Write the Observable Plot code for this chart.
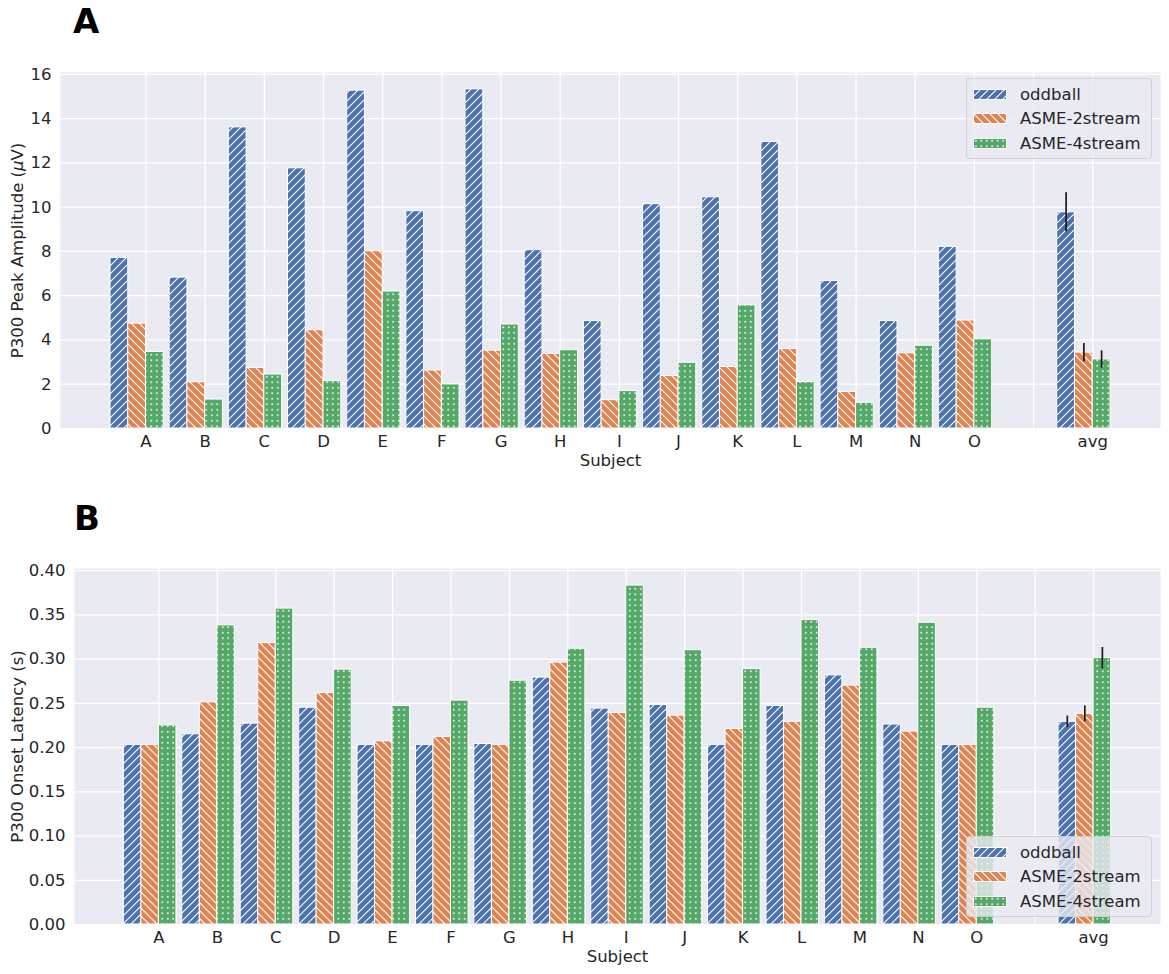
<!DOCTYPE html>
<html>
<head>
<meta charset="utf-8">
<script src="https://cdn.jsdelivr.net/npm/d3@7"></script>
<script src="https://cdn.jsdelivr.net/npm/@observablehq/plot@0.6"></script>
<style>
  body { margin: 0; background: #fff; font-family: "DejaVu Sans", sans-serif; color: #262626; }
  #wrap { position: relative; width: 1169px; height: 974px; overflow: hidden; }
  #wrap > svg.plot { display: block; }
  .panel-title { position: absolute; font-family: "DejaVu Sans", sans-serif; font-weight: bold; font-size: 34px; line-height: 34px; color: #000; }
  .legend { position: absolute; left: 966px; width: 186px; height: 81px; box-sizing: border-box;
            border: 1px solid rgba(204,204,204,0.8); border-radius: 4px; background: rgba(234,234,242,0.8); }
  .legend .row { position: absolute; left: 6px; height: 24px; display: flex; align-items: center;
                 font-size: 16.5px; color: #262626; white-space: nowrap; }
  .legend .row svg { margin-right: 13px; display: block; }
</style>
</head>
<body>
<svg width="0" height="0" style="position:absolute">
  <defs>
    <pattern id="hatchBlue" patternUnits="userSpaceOnUse" width="8" height="8">
      <rect width="8" height="8" fill="#4C72B0"/>
      <path d="M-2,2 L2,-2 M0,8 L8,0 M6,10 L10,6" stroke="#fff" stroke-width="1.1"/>
    </pattern>
    <pattern id="hatchOrange" patternUnits="userSpaceOnUse" width="8" height="8">
      <rect width="8" height="8" fill="#DD8452"/>
      <path d="M-2,6 L2,10 M0,0 L8,8 M6,-2 L10,2" stroke="#fff" stroke-width="1.1"/>
    </pattern>
    <pattern id="dotsGreen" patternUnits="userSpaceOnUse" width="5.5" height="5.5">
      <rect width="5.5" height="5.5" fill="#55A868"/>
      <circle cx="2.75" cy="2.75" r="0.9" fill="#fff"/>
    </pattern>
  </defs>
</svg>
<div id="wrap"></div>
<script>
// ---------- data ----------
const subjects = ["A","B","C","D","E","F","G","H","I","J","K","L","M","N","O","avg"];
const tickLabels = ["A","B","C","D","E","F","G","H","I","J","K","L","M","N","O","","avg"];
const seriesNames = ["oddball","ASME-2stream","ASME-4stream"];

const oddballAmp = [7.71, 6.82, 13.61, 11.76, 15.27, 9.82, 15.33, 8.06, 4.86, 10.14, 10.45, 12.95, 6.67, 4.86, 8.21, 9.77];
const asme2Amp   = [4.74, 2.09, 2.74, 4.44, 8.01, 2.62, 3.52, 3.37, 1.28, 2.37, 2.78, 3.59, 1.65, 3.40, 4.88, 3.43];
const asme4Amp   = [3.46, 1.31, 2.44, 2.14, 6.19, 1.99, 4.70, 3.54, 1.69, 2.97, 5.57, 2.10, 1.16, 3.74, 4.03, 3.12];
const ampAvgErr  = [0.88, 0.41, 0.39];
const ampTicks   = [0, 2, 4, 6, 8, 10, 12, 14, 16];

const oddballLat = [0.203, 0.215, 0.227, 0.245, 0.203, 0.203, 0.204, 0.279, 0.244, 0.248, 0.203, 0.247, 0.2815, 0.226, 0.203, 0.229];
const asme2Lat   = [0.203, 0.251, 0.318, 0.2615, 0.207, 0.212, 0.203, 0.296, 0.239, 0.236, 0.221, 0.229, 0.270, 0.218, 0.203, 0.238];
const asme4Lat   = [0.225, 0.338, 0.357, 0.288, 0.247, 0.253, 0.2755, 0.3116, 0.383, 0.310, 0.2886, 0.344, 0.3127, 0.341, 0.245, 0.301];
const latAvgErr  = [0.0065, 0.009, 0.012];
const latTicks   = [0, 0.05, 0.10, 0.15, 0.20, 0.25, 0.30, 0.35, 0.40];

// ---------- style / layout ----------
const fills = ["url(#hatchBlue)", "url(#hatchOrange)", "url(#dotsGreen)"];
const dodge = [-0.45, -0.15, 0.15];
const barW = 0.3;
const W = 1169, H = 487;

function panel({values, errs, yTicks, yDomain, yFormat, yLabel, margins, labelDx, subjDy}) {
  const rows = values.map((vals, k) => subjects.map((s, i) => ({
    k, subject: s, value: vals[i],
    center: tickLabels.indexOf(s) + dodge[k]
  })));
  const errRows = errs.map((e, k) => ({
    center: tickLabels.indexOf("avg") + dodge[k],
    value: values[k][subjects.indexOf("avg")], err: e
  }));
  const marks = [
    Plot.frame({fill: "#EAEAF2", stroke: "none"}),
    Plot.gridY({ticks: yTicks, stroke: "white", strokeOpacity: 1, strokeWidth: 1.25}),
    Plot.gridX({ticks: d3.range(tickLabels.length), stroke: "white", strokeOpacity: 1, strokeWidth: 1.25}),
    ...rows.map((r, k) => Plot.rectY(r, {
      x1: d => d.center - barW / 2, x2: d => d.center + barW / 2,
      y1: 0, y2: "value",
      fill: fills[k], stroke: "white", strokeWidth: 1
    })),
    Plot.ruleX(errRows, {x: "center", y1: d => d.value - d.err, y2: d => d.value + d.err,
                          stroke: "#1a1a1a", strokeWidth: 1.7}),
    Plot.axisX({ticks: d3.range(tickLabels.length), tickFormat: i => tickLabels[i],
                tickSize: 0, tickPadding: 7, label: null}),
    Plot.axisY({ticks: yTicks, tickFormat: yFormat, tickSize: 0, tickPadding: 9, label: null}),
    Plot.text([yLabel], {frameAnchor: "left", textAnchor: "middle", rotate: -90, dx: labelDx, text: d => d}),
    Plot.text(["Subject"], {frameAnchor: "bottom", textAnchor: "middle", dy: subjDy, text: d => d})
  ];
  return Plot.plot({
    width: W, height: H,
    marginTop: margins[0], marginRight: margins[1], marginBottom: margins[2], marginLeft: margins[3],
    x: {type: "linear", domain: [-1.445, 17.145]},
    y: {type: "linear", domain: yDomain},
    style: {fontFamily: "DejaVu Sans, sans-serif", fontSize: "16.5px", color: "#262626", background: "white", overflow: "visible"},
    marks
  });
}

const wrap = document.getElementById("wrap");

const plotA = panel({
  values: [oddballAmp, asme2Amp, asme4Amp], errs: ampAvgErr,
  yTicks: ampTicks, yDomain: [0, 16.09], yFormat: d => String(d),
  yLabel: "P300 Peak Amplitude (μV)", margins: [72, 9, 59, 60], labelDx: -43, subjDy: 37
});
const plotB = panel({
  values: [oddballLat, asme2Lat, asme4Lat], errs: latAvgErr,
  yTicks: latTicks, yDomain: [0, 0.4023], yFormat: d => d.toFixed(2),
  yLabel: "P300 Onset Latency (s)", margins: [81, 9, 50, 74], labelDx: -57, subjDy: 37
});
wrap.appendChild(plotA);
wrap.appendChild(plotB);

// italic mu (mathtext style)
d3.select(plotA).selectAll("text").filter(function() { return this.textContent === "P300 Peak Amplitude (μV)"; })
  .each(function() {
    const t = d3.select(this);
    t.text(null);
    t.append("tspan").text("P300 Peak Amplitude (");
    t.append("tspan").attr("font-style", "italic").text("μ");
    t.append("tspan").text("V)");
  });

// panel titles
[["A", 73, 4], ["B", 74, 501]].forEach(([txt, x, y]) => {
  const d = document.createElement("div");
  d.className = "panel-title";
  d.style.left = x + "px"; d.style.top = y + "px";
  d.textContent = txt;
  wrap.appendChild(d);
});

// legends
function legend(top) {
  const box = document.createElement("div");
  box.className = "legend";
  box.style.top = top + "px";
  seriesNames.forEach((name, k) => {
    const row = document.createElement("div");
    row.className = "row";
    row.style.top = (3 + k * 24.5) + "px";
    row.innerHTML = `<svg width="34" height="11"><rect x="0.5" y="0.5" width="33" height="10" fill="${fills[k]}" stroke="white" stroke-width="1"/></svg><span>${name}</span>`;
    box.appendChild(row);
  });
  wrap.appendChild(box);
}
legend(78);
legend(836);
</script>
</body>
</html>
